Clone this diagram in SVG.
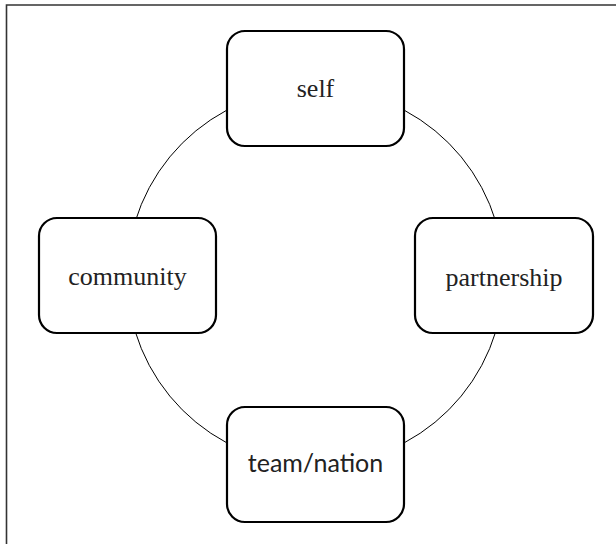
<svg xmlns="http://www.w3.org/2000/svg" width="616" height="544" viewBox="0 0 616 544">
<style>
.box{fill:#fff;stroke:#000;stroke-width:2.2}
.serif{font-family:"Liberation Serif","Times New Roman",serif;font-size:26px;fill:#222;text-anchor:middle}
.sans{font-family:Lato,"Open Sans",sans-serif;font-size:25px;fill:#222;text-anchor:middle}
</style>
<rect width="616" height="544" fill="#fff"/>
<path d="M6.5 544 V5 H616" fill="none" stroke="#333" stroke-width="1.6"/>
<g id="connectors">
<circle cx="315.5" cy="276.5" r="188.5" fill="none" stroke="#000" stroke-width="1"/>
</g>
<g id="self">
<rect class="box" x="227" y="31" width="177" height="115" rx="18"/>
<text class="serif" x="315.5" y="97">self</text>
</g>
<g id="community">
<rect class="box" x="39" y="218" width="177" height="115" rx="18"/>
<text class="serif" x="127.5" y="284.5">community</text>
</g>
<g id="partnership">
<rect class="box" x="415" y="218" width="178" height="115" rx="18"/>
<text class="serif" x="504" y="286">partnership</text>
</g>
<g id="team-nation">
<rect class="box" x="227" y="407" width="177" height="115" rx="18"/>
<text class="sans" x="315.5" y="472">team/nation</text>
</g>
</svg>
